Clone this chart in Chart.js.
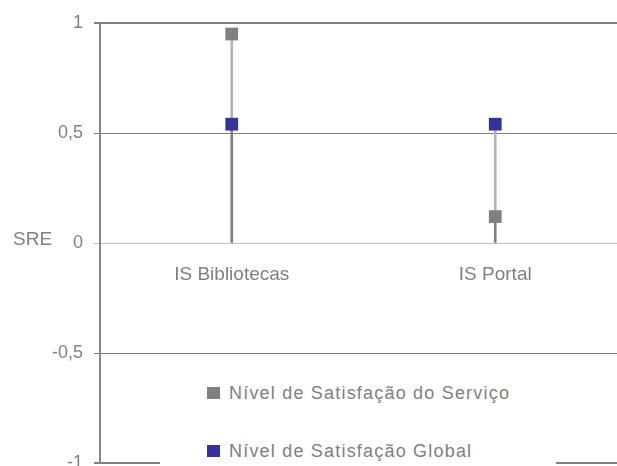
<!DOCTYPE html>
<html>
<head>
<meta charset="utf-8">
<script src="https://cdn.jsdelivr.net/npm/chart.js@4/dist/chart.umd.min.js"></script>
<style>
html, body { margin: 0; padding: 0; background: #fff; overflow: hidden; }
#wrap { position: relative; width: 617px; height: 466px; overflow: hidden; }
#chart { position: absolute; left: 0; top: 0; }
#sre { position: absolute; left: 13px; top: 228px; font: 19px "Liberation Sans", Arial, sans-serif; color: #808080; }
#legend { position: absolute; left: 160px; top: 362px; width: 396px; height: 104px; background: #fff;
  font: 18px "Liberation Sans", Arial, sans-serif; letter-spacing: 1.2px; color: #808080; }
.item { position: absolute; left: 47px; height: 20px; display: flex; align-items: center; white-space: nowrap; }
.box { width: 13px; height: 12px; margin-right: 9px; }
</style>
</head>
<body>
<div id="wrap">
  <canvas id="chart" width="627" height="466"></canvas>
  <div id="sre">SRE</div>
  <div id="legend"></div>
</div>
<script>
// dados
const categories = ['IS Bibliotecas', 'IS Portal'];
const seriesNames = ['Nível de Satisfação do Serviço', 'Nível de Satisfação Global'];
const servico = [0.95, 0.12];
const global = [0.54, 0.54];
const yTicks = [-1, -0.5, 0, 0.5, 1];
const colors = ['#808080', '#333399'];

// linha entre os dois pontos e linha até o eixo
const hiLo = categories.map((c, i) => [Math.min(servico[i], global[i]), Math.max(servico[i], global[i])]);
const drop = categories.map((c, i) => [0, Math.min(servico[i], global[i])]);

const font = { family: '"Liberation Sans", Arial, sans-serif', size: 18 };

const ctx = document.getElementById('chart');
const chart = new Chart(ctx, {
	type: 'bar',
	data: {
		labels: categories,
		datasets: [
			{ type: 'bar', data: hiLo, backgroundColor: '#b4b4b4', barThickness: 2, grouped: false, order: 2 },
			{ type: 'bar', data: drop, backgroundColor: '#7f7f7f', barThickness: 2, grouped: false, order: 1 },
			{
				type: 'line', label: seriesNames[0], data: servico, showLine: false, order: 0,
				pointStyle: 'rect', pointRadius: 9, pointBorderWidth: 0,
				backgroundColor: colors[0], borderColor: colors[0],
			},
			{
				type: 'line', label: seriesNames[1], data: global, showLine: false, order: 0,
				pointStyle: 'rect', pointRadius: 9, pointBorderWidth: 0,
				backgroundColor: colors[1], borderColor: colors[1],
			},
		],
	},
	options: {
		responsive: false,
		animation: false,
		layout: { autoPadding: false, padding: { top: 23, bottom: 3, left: 0, right: 0 } },
		plugins: { legend: { display: false }, tooltip: { enabled: false } },
		scales: {
			x: {
				position: { y: 0 },
				offset: true,
				grid: { display: false, drawTicks: false },
				border: { display: false },
				ticks: { font: { family: font.family, size: 19 }, color: '#808080', padding: 20, maxRotation: 0 },
				afterFit: (s) => { s.paddingLeft = 0; s.paddingRight = 0; },
			},
			y: {
				min: -1,
				max: 1,
				afterBuildTicks: (s) => { s.ticks = yTicks.map(v => ({ value: v })); },
				afterFit: (s) => { s.width = 100; s.paddingTop = 0; s.paddingBottom = 0; },
				border: { display: true, color: '#878787', width: 2 },
				grid: {
					color: (c) => c.tick && c.tick.value === 0 ? '#c0c0c0' : '#808080',
					lineWidth: (c) => c.tick && Math.abs(c.tick.value) === 1 ? 2 : 1,
					tickLength: 6,
				},
				ticks: {
					font: font,
					color: '#808080',
					padding: 11,
					callback: (v) => String(v).replace('.', ','),
				},
			},
		},
	},
});

// legenda
const legend = document.getElementById('legend');
seriesNames.forEach((name, i) => {
	const item = document.createElement('div');
	item.className = 'item';
	item.style.top = (21 + i * 58) + 'px';
	const box = document.createElement('div');
	box.className = 'box';
	box.style.background = colors[i];
	item.appendChild(box);
	item.appendChild(document.createTextNode(name));
	legend.appendChild(item);
});
</script>
</body>
</html>
